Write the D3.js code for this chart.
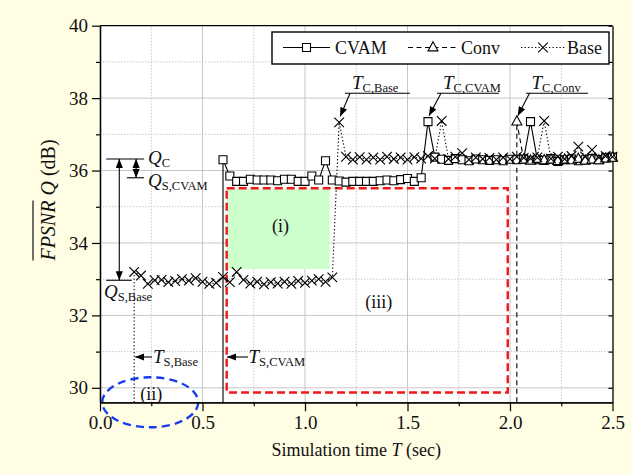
<!DOCTYPE html>
<html>
<head>
<meta charset="utf-8">
<script src="https://cdn.jsdelivr.net/npm/d3@7"></script>
<style>
body { margin: 0; background: #fffde3; }
svg { display: block; font-family: "Liberation Serif", "Times New Roman", serif; }
svg text { font-family: "Liberation Serif", "Times New Roman", serif; }
</style>
</head>
<body>
<script>
// Data (frames at 30 fps)
const fps = 30;
const cvamStart = 18;
const cvamValues = [36.3, 35.85, 35.7, 35.7, 35.76, 35.74, 35.74, 35.74, 35.72, 35.76,
  35.76, 35.7, 35.7, 35.85, 35.74, 36.27, 35.74, 35.71, 35.68, 35.7,
  35.7, 35.7, 35.7, 35.72, 35.74, 35.72, 35.75, 35.78, 35.7, 35.8,
  37.35, 36.37, 36.31, 36.28, 36.33, 36.3, 36.27, 36.32, 36.3, 36.28,
  36.3, 36.27, 36.31, 36.3, 36.32, 37.35, 36.3, 36.28, 36.33, 36.25,
  36.3, 36.32, 36.27, 36.3, 36.33, 36.3, 36.35, 36.37];
const convStart = 61;
const convValues = [37.35, 36.3, 36.27, 36.32, 36.28, 36.3, 36.26, 36.3, 36.28, 36.32,
  36.27, 36.3, 36.28, 36.33, 36.35];
const baseStart = 5;
const baseValues = [33.2, 33.1, 32.87, 32.97, 32.98, 32.92, 32.95, 33.0, 32.96, 33.03,
  32.93, 32.87, 32.9, 33.06, 32.92, 33.2, 32.98, 32.88, 32.93, 32.86,
  32.92, 32.88, 32.93, 32.87, 32.95, 32.9, 32.96, 33.0, 32.93, 33.05,
  37.33, 36.38, 36.3, 36.37, 36.3, 36.36, 36.3, 36.38, 36.32, 36.36,
  36.3, 36.37, 36.33, 36.4, 36.33, 37.37, 36.32, 36.38, 36.48, 36.3,
  36.36, 36.32, 36.35, 36.3, 36.36, 36.32, 36.38, 36.35, 36.33, 36.36,
  37.37, 36.33, 36.38, 36.32, 36.4, 36.66, 36.38, 36.57, 36.36, 36.4,
  36.38];

const xTicks = [0, 0.5, 1.0, 1.5, 2.0, 2.5];
const xMinor = [0.25, 0.75, 1.25, 1.75, 2.25];
const yTicks = [30, 32, 34, 36, 38, 40];
const yMinor = [31, 33, 35, 37, 39];

const W = 632, H = 475;
const serif = "'Liberation Serif', 'Times New Roman', serif";

const svg = d3.select("body").append("svg")
  .attr("width", W)
  .attr("height", H);

svg.append("rect").attr("width", W).attr("height", H).attr("fill", "#fffde3");

const x = d3.scaleLinear().domain([0, 2.5]).range([100, 612.5]);
const y = d3.scaleLinear().domain([29.6, 40]).range([402.3, 25.7]);
const [x0, x1] = x.range();
const [yb, yt] = y.range();

// plot background
svg.append("rect")
  .attr("x", x0).attr("y", yt)
  .attr("width", x1 - x0).attr("height", yb - yt)
  .attr("fill", "#fff");

// grid
const grid = svg.append("g");
grid.selectAll(".vmaj").data(xTicks.slice(1, -1)).enter().append("line")
  .attr("x1", d => x(d)).attr("x2", d => x(d)).attr("y1", yt).attr("y2", yb)
  .attr("stroke", "#c6c6c6").attr("stroke-width", 1);
grid.selectAll(".vmin").data(xMinor).enter().append("line")
  .attr("x1", d => x(d)).attr("x2", d => x(d)).attr("y1", yt).attr("y2", yb)
  .attr("stroke", "#c8c8c8").attr("stroke-width", 1).attr("stroke-dasharray", "1.5,1.5");
grid.selectAll(".hmaj").data(yTicks.slice(0, -1)).enter().append("line")
  .attr("y1", d => y(d)).attr("y2", d => y(d)).attr("x1", x0).attr("x2", x1)
  .attr("stroke", "#c6c6c6").attr("stroke-width", 1);
grid.selectAll(".hmin").data(yMinor).enter().append("line")
  .attr("y1", d => y(d)).attr("y2", d => y(d)).attr("x1", x0).attr("x2", x1)
  .attr("stroke", "#c8c8c8").attr("stroke-width", 1).attr("stroke-dasharray", "1.5,1.5");

// regions
svg.append("rect")
  .attr("x", x(0.62)).attr("y", y(35.49))
  .attr("width", x(1.12) - x(0.62)).attr("height", y(33.28) - y(35.49))
  .attr("fill", "#ccffcc");
svg.append("rect")
  .attr("x", x(0.618)).attr("y", y(35.51))
  .attr("width", x(1.989) - x(0.618)).attr("height", y(29.87) - y(35.51))
  .attr("fill", "none").attr("stroke", "#f01818").attr("stroke-width", 2.4)
  .attr("stroke-dasharray", "8,4");
svg.append("ellipse")
  .attr("cx", x(0.245)).attr("cy", y(29.6)).attr("rx", 48).attr("ry", 25)
  .attr("fill", "none").attr("stroke", "#1a3cf0").attr("stroke-width", 2.4)
  .attr("stroke-dasharray", "8,5");

const regionText = [["(i)", 0.88, 34.3], ["(ii)", 0.25, 29.66], ["(iii)", 1.36, 32.2]];
svg.selectAll(".rt").data(regionText).enter().append("text")
  .attr("x", d => x(d[1])).attr("y", d => y(d[2]))
  .attr("text-anchor", "middle").attr("font-size", 18).attr("fill", "#111")
  .text(d => d[0]);

// axes
const axisStyle = g => {
  g.attr("font-family", serif);
  g.selectAll("path").attr("stroke", "#000").attr("stroke-width", 1.3);
  g.selectAll("line").attr("stroke", "#000").attr("stroke-width", 1.2);
  g.selectAll("text").style("font-family", serif).attr("font-size", 19).attr("fill", "#111");
};
svg.append("g").attr("transform", `translate(${x0},0)`)
  .call(d3.axisLeft(y).tickValues(yMinor).tickSize(4).tickSizeOuter(0).tickFormat(""))
  .call(axisStyle);
svg.append("g").attr("transform", `translate(${x0},0)`)
  .call(d3.axisLeft(y).tickValues(yTicks).tickSize(8).tickSizeOuter(0).tickPadding(4).tickFormat(d3.format("d")))
  .call(axisStyle);
svg.append("g").attr("transform", `translate(0,${yb})`)
  .call(d3.axisBottom(x).tickValues(xMinor).tickSize(4).tickSizeOuter(0).tickFormat(""))
  .call(axisStyle);
svg.append("g").attr("transform", `translate(0,${yb})`)
  .call(d3.axisBottom(x).tickValues(xTicks).tickSize(9).tickSizeOuter(0).tickPadding(4).tickFormat(d3.format(".1f")))
  .call(axisStyle);
svg.append("g").attr("transform", `translate(${x1},0)`)
  .call(d3.axisLeft(y).tickValues(yTicks.concat(yMinor)).tickSize(4).tickSizeOuter(0).tickFormat(""))
  .call(axisStyle);
svg.append("line").attr("x1", x0).attr("x2", x1).attr("y1", yt).attr("y2", yt)
  .attr("stroke", "#000").attr("stroke-width", 1.3);

// axis titles
const xt = svg.append("text").attr("x", (x0 + x1) / 2).attr("y", 456)
  .attr("text-anchor", "middle").attr("font-size", 18).attr("fill", "#111");
xt.append("tspan").text("Simulation time ");
xt.append("tspan").attr("font-style", "italic").text("T");
xt.append("tspan").text(" (sec)");

const yl = svg.append("g").attr("transform", "translate(55,200) rotate(-90)");
const ytxt = yl.append("text").attr("x", 0).attr("y", 0)
  .attr("text-anchor", "middle").attr("font-size", 20).attr("fill", "#111");
ytxt.append("tspan").attr("font-style", "italic").text("FPSNR");
ytxt.append("tspan").text(" ");
ytxt.append("tspan").attr("font-style", "italic").text("Q");
ytxt.append("tspan").text(" (dB)");
const n = ytxt.node();
const oa = n.getStartPositionOfChar(0).x, ob = n.getEndPositionOfChar(4).x;
yl.append("line").attr("x1", oa).attr("x2", ob).attr("y1", -22).attr("y2", -22)
  .attr("stroke", "#111").attr("stroke-width", 1.2);

// series
const series = [
  { name: "CVAM", start: cvamStart, values: cvamValues, dash: null, marker: "square" },
  { name: "Conv", start: convStart, values: convValues, dash: "5,3.5", marker: "triangle" },
  { name: "Base", start: baseStart, values: baseValues, dash: "1.3,2.2", marker: "cross" }
];

const markerPath = {
  square: "M-4,-4H4V4H-4Z",
  triangle: "M0,-5.8L5,3.4L-5,3.4Z",
  cross: "M-4.8,-4.8L4.8,4.8M4.8,-4.8L-4.8,4.8"
};

const line = d3.line().x(d => x(d.t)).y(d => y(d.v));

series.forEach(s => {
  s.points = s.values.map((v, i) => ({ t: (s.start + i) / fps, v }));
  const path = [{ t: s.start / fps, v: y.domain()[0] }].concat(s.points);
  svg.append("path")
    .attr("d", line(path))
    .attr("fill", "none").attr("stroke", "#000").attr("stroke-width", 1.1)
    .attr("stroke-dasharray", s.dash);
});

series.forEach(s => {
  svg.append("g").selectAll("path").data(s.points).enter().append("path")
    .attr("transform", d => `translate(${x(d.t)},${y(d.v)})`)
    .attr("d", markerPath[s.marker])
    .attr("fill", s.marker === "cross" ? "none" : "#fff")
    .attr("stroke", "#000").attr("stroke-width", 1.1);
});

// annotations
const defs = svg.append("defs");
defs.append("marker").attr("id", "ah")
  .attr("viewBox", "0 0 10 8").attr("refX", 10).attr("refY", 4)
  .attr("markerWidth", 9).attr("markerHeight", 7.2)
  .attr("markerUnits", "userSpaceOnUse").attr("orient", "auto-start-reverse")
  .append("path").attr("d", "M0,0L10,4L0,8Z").attr("fill", "#000");

const ann = svg.append("g").attr("stroke", "#000").attr("stroke-width", 1.1);
function seg(ax, ay, bx, by, start, end) {
  const l = ann.append("line").attr("x1", ax).attr("y1", ay).attr("x2", bx).attr("y2", by);
  if (start) l.attr("marker-start", "url(#ah)");
  if (end) l.attr("marker-end", "url(#ah)");
}
function label(px, py, main, sub) {
  const t = svg.append("text").attr("x", px).attr("y", py).attr("font-size", 19).attr("fill", "#111");
  t.append("tspan").attr("font-style", "italic").text(main);
  t.append("tspan").attr("font-size", 12.5).attr("dy", 3).text(sub);
}

const qC = 36.32, qSC = 35.8, qSB = 32.97;
seg(x(0.03), y(qC), x(0.215), y(qC));
seg(x(0.131), y(qSC), x(0.215), y(qSC));
seg(x(0.03), y(qSB), x(0.155), y(qSB));
seg(x(0.094), y(qC), x(0.094), y(qSB), true, true);
seg(x(0.176), y(qC), x(0.176), y(qSC), true, true);
label(148, 163.5, "Q", "C");
label(148, 187, "Q", "S,CVAM");
label(104, 298, "Q", "S,Base");

// start time arrows
seg(152, 357, x(baseStart / fps) + 1, 357, false, true);
label(153, 363, "T", "S,Base");
seg(248, 357, x(cvamStart / fps) + 4, 357, false, true);
label(248.5, 363, "T", "S,CVAM");

// convergence callouts: series index, point index, label x, underline ends
const callouts = [
  { s: 2, i: 30, lx: 352, u0: 345, u1: 410, sub: "C,Base" },
  { s: 0, i: 30, lx: 443, u0: 437, u1: 499, sub: "C,CVAM" },
  { s: 1, i: 0, lx: 531.5, u0: 526, u1: 588, sub: "C,Conv" }
];
callouts.forEach(c => {
  const p = series[c.s].points[c.i];
  const px = x(p.t), py = y(p.v);
  ann.append("line").attr("x1", c.u0).attr("x2", c.u1).attr("y1", 93.3).attr("y2", 93.3);
  seg(c.lx - 2, 93.3, px + 1, py - 6, false, true);
  label(c.lx, 89, "T", c.sub);
});

// legend
const lg = svg.append("g");
lg.append("rect").attr("x", 272).attr("y", 32).attr("width", 337).attr("height", 32)
  .attr("fill", "#fff").attr("stroke", "#000").attr("stroke-width", 1.4);
const legendPos = [
  { a: 283, b: 330, tx: 335 },
  { a: 408, b: 458, tx: 461 },
  { a: 521, b: 565, tx: 567 }
];
series.forEach((s, i) => {
  const p = legendPos[i];
  lg.append("line").attr("x1", p.a).attr("x2", p.b).attr("y1", 47.5).attr("y2", 47.5)
    .attr("stroke", "#000").attr("stroke-width", 1.1).attr("stroke-dasharray", s.dash);
  lg.append("path").attr("transform", `translate(${(p.a + p.b) / 2},47.5)`)
    .attr("d", markerPath[s.marker])
    .attr("fill", s.marker === "cross" ? "none" : "#fff")
    .attr("stroke", "#000").attr("stroke-width", 1.1);
  lg.append("text").attr("x", p.tx).attr("y", 54).attr("font-size", 18).attr("fill", "#111").text(s.name);
});
</script>
</body>
</html>
